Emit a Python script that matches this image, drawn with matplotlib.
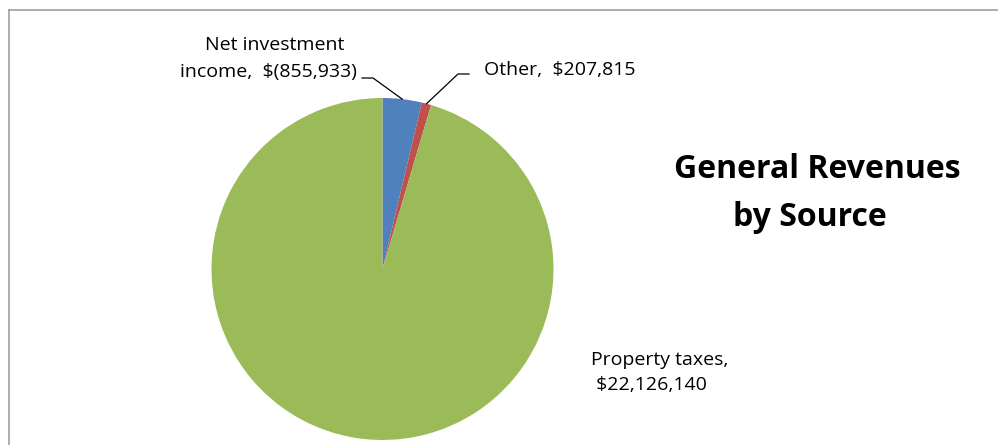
import numpy as np
import matplotlib
matplotlib.use("Agg")
import matplotlib.pyplot as plt
from matplotlib.lines import Line2D

# General revenues by source
sources = ["Net investment income", "Other", "Property taxes"]
amounts = [855933, 207815, 22126140]
label_lines = [
    ["Net investment", "income,  $(855,933)"],
    ["Other,  $207,815"],
    ["Property taxes,", " $22,126,140"],
]
colors = ["#4F81BD", "#C0504D", "#9BBB59"]
title_lines = ["General Revenues", "by Source"]

W, H = 998, 445
fig = plt.figure(figsize=(W / 100, H / 100), dpi=100)
FONT = ["Open Sans", "DejaVu Sans"]


def px(x, y):
    """Pixel position (from top-left) to figure fraction."""
    return x / W, 1 - y / H


# Chart-area frame (left and top edges)
frame_c = "#a0a0a0"
fig.add_artist(Line2D([px(9, 0)[0], px(9, 0)[0]], [px(0, 10)[1], 0],
                      transform=fig.transFigure, color=frame_c, lw=1.2))
fig.add_artist(Line2D([px(9, 0)[0], 1], [px(0, 10)[1], px(0, 10)[1]],
                      transform=fig.transFigure, color=frame_c, lw=1.2))

# Pie placement
cx, cy, R = 382.5, 269, 171
ax = fig.add_axes([(cx - R) / W, (H - cy - R) / H, 2 * R / W, 2 * R / H])
wedges, _ = ax.pie(amounts, colors=colors, startangle=90, counterclock=False,
                   radius=1, wedgeprops=dict(linewidth=0))
ax.set_xlim(-1, 1)
ax.set_ylim(-1, 1)
ax.set_aspect("equal")
ax.axis("off")


def edge_px(w):
    mid = np.deg2rad((w.theta1 + w.theta2) / 2)
    return cx + R * np.cos(mid), cy - R * np.sin(mid)


lab_kw = dict(fontsize=14, family=FONT, color="black")

# Net investment income label + leader
fig.text(*px(275, 45), label_lines[0][0], ha="center", va="center", **lab_kw)
fig.text(*px(268.5, 72), label_lines[0][1], ha="center", va="center", **lab_kw)
ex, ey = edge_px(wedges[0])
pts = [(362, 78), (373, 78), (ex, ey)]
fig.add_artist(Line2D([px(*p)[0] for p in pts], [px(*p)[1] for p in pts],
                      transform=fig.transFigure, color="black", lw=0.9))

# Other label + leader
fig.text(*px(484, 70), label_lines[1][0], ha="left", va="center", **lab_kw)
ex, ey = edge_px(wedges[1])
pts = [(ex, ey), (458, 74), (469, 74)]
fig.add_artist(Line2D([px(*p)[0] for p in pts], [px(*p)[1] for p in pts],
                      transform=fig.transFigure, color="black", lw=0.9))

# Property taxes label
fig.text(*px(591, 360), label_lines[2][0], ha="left", va="center", **lab_kw)
fig.text(*px(591, 385), label_lines[2][1], ha="left", va="center", **lab_kw)

# Title
fig.text(*px(817, 170), title_lines[0], ha="center", va="center",
         fontsize=23, fontweight="bold", family=FONT)
fig.text(*px(810, 218), title_lines[1], ha="center", va="center",
         fontsize=23, fontweight="bold", family=FONT)

fig.savefig("out.png", dpi=100)
